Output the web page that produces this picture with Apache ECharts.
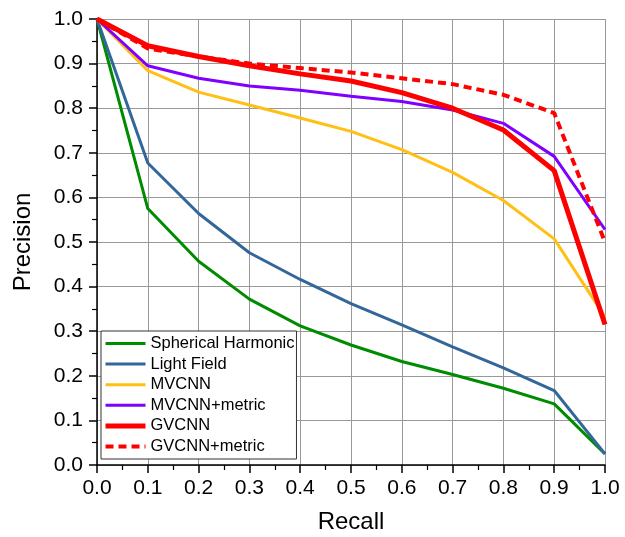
<!DOCTYPE html>
<html lang="en">
<head>
    <meta charset="UTF-8">
    <title>Precision-Recall</title>
    <style>
        html, body { margin: 0; padding: 0; background: #fff; }
    </style>
</head>
<body>
    <div id="chart" style="width:625px; height:537px"></div>

    <script src="https://cdn.jsdelivr.net/npm/echarts@6/dist/echarts.min.js"></script>
    <script>
        // recall points (x)
        const recall = [0, 0.1, 0.2, 0.3, 0.4, 0.5, 0.6, 0.7, 0.8, 0.9, 1.0];

        // precision values
        const sphericalHarmonic = [1.0, 0.575, 0.457, 0.372, 0.312, 0.269, 0.232, 0.203, 0.172, 0.137, 0.025];
        const lightField        = [1.0, 0.677, 0.564, 0.476, 0.416, 0.362, 0.314, 0.265, 0.218, 0.167, 0.025];
        const mvcnn             = [1.0, 0.884, 0.836, 0.807, 0.778, 0.748, 0.707, 0.656, 0.593, 0.507, 0.332];
        const mvcnnMetric       = [1.0, 0.895, 0.867, 0.850, 0.840, 0.827, 0.815, 0.796, 0.766, 0.692, 0.528];
        const gvcnn             = [1.0, 0.940, 0.916, 0.895, 0.877, 0.861, 0.835, 0.800, 0.751, 0.660, 0.315];
        const gvcnnMetric       = [1.0, 0.934, 0.916, 0.900, 0.890, 0.880, 0.867, 0.854, 0.830, 0.789, 0.500];

        const pairs = (ys) => recall.map((x, i) => [x, ys[i]]);

        const chart = echarts.init(document.querySelector('#chart'));

        const FONT = "'Liberation Sans', Arial, sans-serif";
        const axisText = { color: '#000', fontSize: 21, fontFamily: FONT };

        function line(name, ys, color, width, type) {
            return {
                name: name,
                type: 'line',
                data: pairs(ys),
                symbol: 'none',
                silent: true,
                lineStyle: { color: color, width: width, type: type || 'solid' },
                itemStyle: { color: color },
                z: 3
            };
        }

        chart.setOption({
            animation: false,
            grid: { left: 97, right: 20, top: 19, bottom: 72, containLabel: false, outerBoundsMode: 'none' },
            legend: {
                orient: 'vertical',
                left: 101,
                top: 331,
                itemWidth: 40,
                itemHeight: 14,
                itemGap: 3.6,
                padding: [4, 2, 4, 2],
                backgroundColor: '#fff',
                borderColor: '#333',
                borderWidth: 1,
                borderRadius: 0,
                itemStyle: { opacity: 0 },
                lineStyle: { width: 'inherit' },
                textStyle: { color: '#000', fontSize: 16.5, lineHeight: 17, fontFamily: FONT },
                data: ['Spherical Harmonic', 'Light Field', 'MVCNN', 'MVCNN+metric', 'GVCNN', 'GVCNN+metric']
            },
            xAxis: {
                type: 'value',
                min: 0,
                max: 1,
                interval: 0.1,
                name: 'Recall',
                nameLocation: 'middle',
                nameGap: 45,
                nameTextStyle: { color: '#000', fontSize: 24, fontFamily: FONT },
                axisLine: { lineStyle: { color: '#000', width: 1.5 } },
                axisTick: { show: true, length: 8, lineStyle: { color: '#000', width: 1.5 } },
                minorTick: { show: true, splitNumber: 2, length: 5, lineStyle: { color: '#000', width: 1.2 } },
                axisLabel: Object.assign({ margin: 13, formatter: (v) => v.toFixed(1) }, axisText),
                splitLine: { show: true, lineStyle: { color: '#999', width: 1 } }
            },
            yAxis: {
                type: 'value',
                min: 0,
                max: 1,
                interval: 0.1,
                name: 'Precision',
                nameLocation: 'middle',
                nameGap: 62,
                nameTextStyle: { color: '#000', fontSize: 24, fontFamily: FONT },
                axisLine: { show: true, lineStyle: { color: '#000', width: 1.5 } },
                axisTick: { show: true, length: 8, lineStyle: { color: '#000', width: 1.5 } },
                minorTick: { show: true, splitNumber: 2, length: 5, lineStyle: { color: '#000', width: 1.2 } },
                axisLabel: Object.assign({ margin: 14, formatter: (v) => v.toFixed(1) }, axisText),
                splitLine: { show: true, lineStyle: { color: '#999', width: 1 } }
            },
            series: [
                line('Spherical Harmonic', sphericalHarmonic, '#008c00', 3),
                line('Light Field', lightField, '#33679a', 3),
                line('MVCNN', mvcnn, '#ffbf14', 3),
                line('MVCNN+metric', mvcnnMetric, '#8000ff', 3),
                line('GVCNN', gvcnn, '#ff0000', 5),
                line('GVCNN+metric', gvcnnMetric, '#ff0000', 4, [8, 5])
            ]
        });
    </script>
</body>
</html>
